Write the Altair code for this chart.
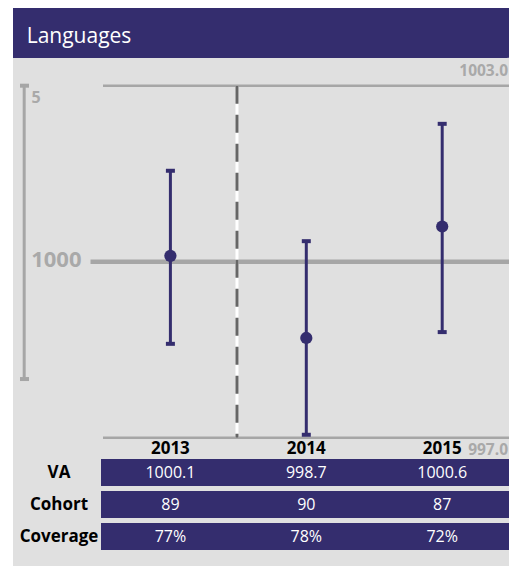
import altair as alt
import pandas as pd

# ---------------- data ----------------
title_text = "Languages"
years = [2013, 2014, 2015]
va = [1000.1, 998.7, 1000.6]
va_lower = [998.6, 997.05, 998.8]
va_upper = [1001.55, 1000.35, 1002.35]
cohort = [89, 90, 87]
coverage = [77, 78, 72]
row_labels = ["VA", "Cohort", "Coverage"]
y_min, y_ref, y_max = 997.0, 1000.0, 1003.0
scale_bar = [998.0, 1003.0]
scale_bar_label = "5"
divider_year = 2013.49

PURPLE = "#342d6e"
GRAY_BG = "#e0e0e0"
GRAY_LINE = "#a6a6a6"
GRAY_TEXT = "#a9a9a9"
FONT = "Open Sans"

W, H = 501, 558

xs = alt.Scale(domain=[2012, 2016], range=[26.5, 570.1])
ys = alt.Scale(domain=[y_min, y_max], range=[429.7, 77.7])
rows_scale = alt.Scale(type="band", domain=row_labels, range=[451, 542],
                       paddingInner=5 / 32, paddingOuter=0)

one = pd.DataFrame({"t": [title_text]})
pts = pd.DataFrame({"year": years, "va": va, "lo": va_lower, "hi": va_upper})
hl = pd.DataFrame({"v": [y_min, y_max], "lab": [f"{y_min:.1f}", f"{y_max:.1f}"]})
ref = pd.DataFrame({"v": [y_ref], "lab": [f"{y_ref:.0f}"]})
sb = pd.DataFrame({"lo": [scale_bar[0]], "hi": [scale_bar[1]], "lab": [scale_bar_label]})
sb_ends = pd.DataFrame({"v": scale_bar})
div = pd.DataFrame({"x": [divider_year], "y1": [y_max], "y2": [y_min]})
yr = pd.DataFrame({"year": years, "lab": [str(y) for y in years]})
rows = pd.DataFrame({"row": row_labels})
cells = pd.DataFrame({
    "row": ["VA"] * 3 + ["Cohort"] * 3 + ["Coverage"] * 3,
    "year": years * 3,
    "lab": [f"{v:.1f}" for v in va] + [str(c) for c in cohort] + [f"{c}%" for c in coverage],
})

base = alt.Chart(one)

background = base.mark_rect(color=GRAY_BG).encode(
    x=alt.value(5), x2=alt.value(700), y=alt.value(0), y2=alt.value(700))
header = base.mark_rect(color=PURPLE, cornerRadiusBottomRight=15).encode(
    x=alt.value(5), x2=alt.value(514), y=alt.value(0), y2=alt.value(50))
title = base.mark_text(color="white", font=FONT, fontSize=21, align="left",
                       baseline="alphabetic").encode(
    x=alt.value(18.7), y=alt.value(35.3), text="t:N")

hlines = alt.Chart(hl).mark_rule(color=GRAY_LINE, strokeWidth=2.5).encode(
    y=alt.Y("v:Q", scale=ys, axis=None), x=alt.value(95), x2=alt.value(700))
refline = alt.Chart(ref).mark_rule(color=GRAY_LINE, strokeWidth=4.5).encode(
    y=alt.Y("v:Q", scale=ys, axis=None), x=alt.value(82.5), x2=alt.value(700))
reflabel = alt.Chart(ref).mark_text(color=GRAY_TEXT, font=FONT, fontSize=22,
                                    fontWeight="bold", align="right",
                                    baseline="alphabetic", dy=5.6).encode(
    y=alt.Y("v:Q", scale=ys, axis=None), x=alt.value(73.5), text="lab:N")
toplabel = alt.Chart(hl[hl.v == y_max]).mark_text(
    color=GRAY_TEXT, font=FONT, fontSize=15.5, fontWeight="bold", align="right",
    baseline="alphabetic", dy=-9.5).encode(
    y=alt.Y("v:Q", scale=ys, axis=None), x=alt.value(500), text="lab:N")
botlabel = alt.Chart(hl[hl.v == y_min]).mark_text(
    color=GRAY_TEXT, font=FONT, fontSize=15.5, fontWeight="bold", align="right",
    baseline="alphabetic", dy=17).encode(
    y=alt.Y("v:Q", scale=ys, axis=None), x=alt.value(500), text="lab:N")

sbar = alt.Chart(sb).mark_rule(color=GRAY_LINE, strokeWidth=3).encode(
    y=alt.Y("lo:Q", scale=ys, axis=None), y2="hi:Q", x=alt.value(16.2))
scaps = alt.Chart(sb_ends).mark_rule(color=GRAY_LINE, strokeWidth=4).encode(
    y=alt.Y("v:Q", scale=ys, axis=None), x=alt.value(12), x2=alt.value(21))
slabel = alt.Chart(sb).mark_text(color=GRAY_TEXT, font=FONT, fontSize=16,
                                 fontWeight="bold", align="left",
                                 baseline="alphabetic", dy=17).encode(
    y=alt.Y("hi:Q", scale=ys, axis=None), x=alt.value(23.5), text="lab:N")

div_white = alt.Chart(div).mark_rule(color="white", strokeWidth=3).encode(
    x=alt.X("x:Q", scale=xs, axis=None),
    y=alt.Y("y1:Q", scale=ys, axis=None), y2="y2:Q")
div_dash = alt.Chart(div).mark_rule(color="#666666", strokeWidth=3,
                                    strokeDash=[18, 11]).encode(
    x=alt.X("x:Q", scale=xs, axis=None),
    y=alt.Y("y1:Q", scale=ys, axis=None), y2="y2:Q")

ebar = alt.Chart(pts).mark_rule(color=PURPLE, strokeWidth=3).encode(
    x=alt.X("year:Q", scale=xs, axis=None),
    y=alt.Y("lo:Q", scale=ys, axis=None), y2="hi:Q")
cap_hi = alt.Chart(pts).mark_tick(color=PURPLE, orient="horizontal", size=9,
                                  thickness=4, opacity=1).encode(
    x=alt.X("year:Q", scale=xs, axis=None),
    y=alt.Y("hi:Q", scale=ys, axis=None))
cap_lo = alt.Chart(pts).mark_tick(color=PURPLE, orient="horizontal", size=9,
                                  thickness=4, opacity=1).encode(
    x=alt.X("year:Q", scale=xs, axis=None),
    y=alt.Y("lo:Q", scale=ys, axis=None))
dots = alt.Chart(pts).mark_circle(color=PURPLE, size=150, opacity=1).encode(
    x=alt.X("year:Q", scale=xs, axis=None),
    y=alt.Y("va:Q", scale=ys, axis=None))

year_labels = alt.Chart(yr).mark_text(color="black", font=FONT, fontSize=17,
                                      fontWeight="bold", align="center",
                                      baseline="alphabetic").encode(
    x=alt.X("year:Q", scale=xs, axis=None), y=alt.value(446), text="lab:N")

row_rects = alt.Chart(rows).mark_rect(color=PURPLE).encode(
    y=alt.Y("row:N", scale=rows_scale, axis=None),
    x=alt.value(93), x2=alt.value(502))
row_text = alt.Chart(rows).mark_text(color="black", font=FONT, fontSize=17,
                                     fontWeight="bold", align="center",
                                     baseline="middle").encode(
    y=alt.Y("row:N", scale=rows_scale, axis=None),
    x=alt.value(51), text="row:N")
cell_text = alt.Chart(cells).mark_text(color="white", font=FONT, fontSize=16,
                                       align="center", baseline="middle").encode(
    y=alt.Y("row:N", scale=rows_scale, axis=None),
    x=alt.X("year:Q", scale=xs, axis=None), text="lab:N")

chart = alt.layer(
    background, header, title,
    hlines, refline, reflabel, toplabel, botlabel,
    sbar, scaps, slabel,
    div_white, div_dash,
    ebar, cap_hi, cap_lo, dots,
    year_labels, row_rects, row_text, cell_text,
).resolve_scale(y="independent").properties(
    width=W, height=H, padding=0,
    autosize=alt.AutoSizeParams(type="none"),
    background="white",
).configure_view(stroke=None)

chart.save("out.html", embed_options={"renderer": "svg", "actions": False})
